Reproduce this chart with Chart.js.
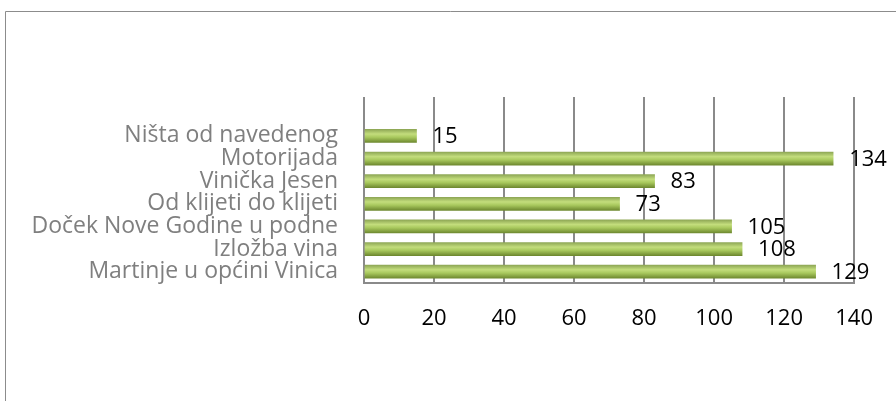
<!DOCTYPE html>
<html>
<head>
<meta charset="utf-8">
<script src="https://cdn.jsdelivr.net/npm/chart.js@4"></script>
<style>
  html, body { margin: 0; padding: 0; background: #fff; }
  #wrap { width: 896px; height: 401px; }
</style>
</head>
<body>
<div id="wrap"><canvas id="chart"></canvas></div>
<script>
// categories, top to bottom (first one is the empty slot above the bars)
var categories = [
    '',
    'Ništa od navedenog',
    'Motorijada',
    'Vinička Jesen',
    'Od klijeti do klijeti',
    'Doček Nove Godine u podne',
    'Izložba vina',
    'Martinje u općini Vinica'
];
var counts = [null, 15, 134, 83, 73, 105, 108, 129];
var xTicks = [0, 20, 40, 60, 80, 100, 120, 140];

var FONT = '"Open Sans", Lato, sans-serif';
var GRID = '#8a8a8a';

// vertical gradient for each bar, based on its row position
function barFill(ctx) {
    var chart = ctx.chart;
    var y = chart.scales.y;
    if (!y || ctx.dataIndex === undefined) return '#9bbb59';
    var c = y.getPixelForValue(ctx.dataIndex);
    if (!isFinite(c)) return '#9bbb59';
    var g = chart.ctx.createLinearGradient(0, c - 6.5, 0, c + 6.5);
    g.addColorStop(0, '#8fa856');
    g.addColorStop(0.35, '#c3dd7c');
    g.addColorStop(0.6, '#a9c95e');
    g.addColorStop(1, '#6f8a30');
    return g;
}

function fixedTicks(s) {
    s.ticks = xTicks.map(function (v) { return { value: v }; });
}

// outer frame (left and top edges only are visible)
var frame = {
    id: 'frame',
    afterDraw: function (chart) {
        var c = chart.ctx;
        c.save();
        c.strokeStyle = '#8c8c8c';
        c.lineWidth = 1;
        c.beginPath();
        c.moveTo(5.5, 401);
        c.lineTo(5.5, 11.5);
        c.lineTo(896, 11.5);
        c.stroke();
        c.restore();
    }
};

// value labels to the right of each bar
var valueLabels = {
    id: 'valueLabels',
    afterDatasetsDraw: function (chart) {
        var c = chart.ctx;
        var meta = chart.getDatasetMeta(0);
        c.save();
        c.fillStyle = '#000';
        c.font = '22px ' + FONT;
        c.textBaseline = 'middle';
        c.textAlign = 'left';
        meta.data.forEach(function (bar, i) {
            if (counts[i] == null) return;
            c.fillText(String(counts[i]), bar.x + 16, bar.y + 1);
        });
        c.restore();
    }
};

new Chart(document.getElementById('chart'), {
    type: 'bar',
    data: {
        labels: categories,
        datasets: [{
            data: counts,
            backgroundColor: barFill,
            borderWidth: 0,
            barThickness: 13
        }]
    },
    options: {
        indexAxis: 'y',
        responsive: true,
        maintainAspectRatio: false,
        animation: false,
        layout: { padding: { top: 97, right: 40, left: 0, bottom: 0 } },
        plugins: {
            legend: { display: false },
            tooltip: { enabled: false }
        },
        scales: {
            x: {
                min: 0,
                max: 140,
                afterBuildTicks: fixedTicks,
                afterFit: function (s) { s.height = 118; },
                grid: { color: GRID, lineWidth: 2, drawTicks: false },
                border: { color: GRID, width: 2 },
                ticks: {
                    color: '#000',
                    padding: 23,
                    font: { family: FONT, size: 22 }
                }
            },
            // gridlines poke a little above the plot, like the original
            x2: {
                type: 'linear',
                position: 'top',
                min: 0,
                max: 140,
                afterBuildTicks: fixedTicks,
                grid: { color: GRID, lineWidth: 2, drawOnChartArea: false, tickLength: 5 },
                border: { display: false },
                ticks: { display: false }
            },
            y: {
                afterFit: function (s) { s.width = 364; },
                grid: { display: false },
                border: { color: GRID, width: 2 },
                ticks: {
                    color: '#7f7f7f',
                    padding: 18,
                    autoSkip: false,
                    font: { family: FONT, size: 23 }
                }
            }
        }
    },
    plugins: [frame, valueLabels]
});
</script>
</body>
</html>
